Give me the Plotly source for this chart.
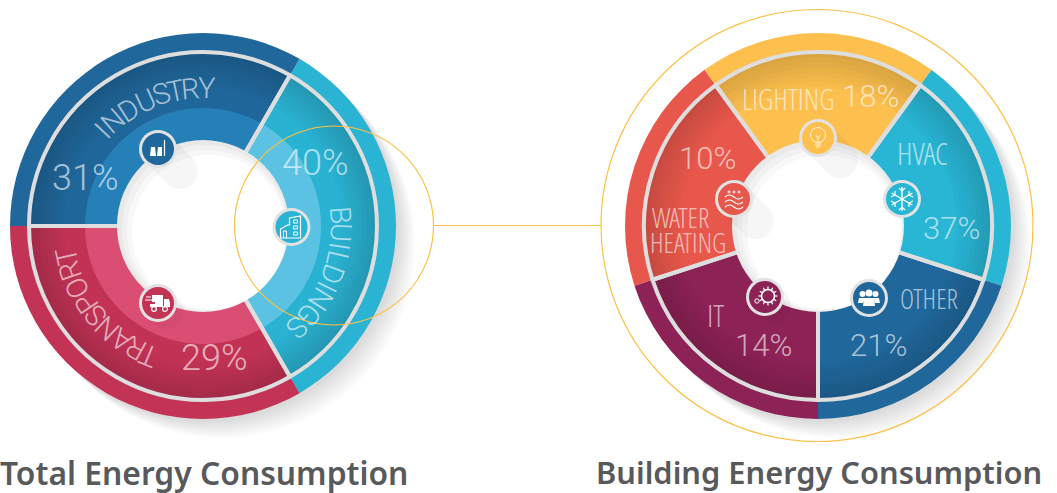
import re
import math
import plotly.graph_objects as go

W, H = 1057, 493

# ---- data ----
total_categories = ["Buildings", "Transport", "Industry"]
total_shares = [40, 29, 31]
total_slice_sizes = [120, 120, 120]
building_categories = ["HVAC", "Other", "IT", "Water heating", "Lighting"]
building_shares = [37, 21, 14, 10, 18]
building_slice_sizes = [72, 72, 72, 72, 72]
chart_titles = ["Total Energy Consumption", "Building Energy Consumption"]

total_base = ["#2bb3d3", "#c23356", "#20679b"]
total_light = ["#5bc2e3", "#db4e74", "#2680b8"]
building_base = ["#29b5d4", "#20679b", "#8d2256", "#e8574b", "#fdbf4d"]

SEP = "#dedede"
YEL = "#fbc047"
SEMI = "Roboto"
COND = "Open Sans Condensed Light, Roboto Condensed Light, Roboto"
TXT = "rgba(255,255,255,0.62)"

LC = (203, 226)
RC = (818, 226)


def fx(x):
    return x / W


def fy(y):
    return 1 - y / H


def darken(c, f):
    r, g, b = int(c[1:3], 16), int(c[3:5], 16), int(c[5:7], 16)
    return f"rgb({int(r*f)},{int(g*f)},{int(b*f)})"


fig = go.Figure()
shapes = []
ann = []


def pie(center, r, values, names, colors, rotation, line=None):
    cx, cy = center
    fig.add_trace(go.Pie(
        values=values, labels=names, sort=False, direction="clockwise",
        rotation=rotation, hole=0, textinfo="none", hoverinfo="skip",
        showlegend=False,
        domain=dict(x=[fx(cx - r), fx(cx + r)], y=[fy(cy + r), fy(cy - r)]),
        marker=dict(colors=colors, line=line or dict(width=0)),
    ))


def circle(cx, cy, r, fill=None, line=None, lw=0, opacity=1, layer="above"):
    shapes.append(dict(
        type="circle", xref="paper", yref="paper",
        x0=fx(cx - r), x1=fx(cx + r), y0=fy(cy + r), y1=fy(cy - r),
        fillcolor=fill or "rgba(0,0,0,0)",
        line=dict(color=line or "rgba(0,0,0,0)", width=lw),
        opacity=opacity, layer=layer,
    ))


def path(cx, cy, d, fill=None, line=None, lw=1.2, opacity=1):
    toks = re.findall(r"[A-Za-z]|-?\d+\.?\d*", d)
    out, isx = [], True
    for t in toks:
        if t.isalpha():
            out.append(t)
            isx = True
        else:
            v = float(t)
            out.append(f"{fx(cx + v):.5f}" if isx else f"{fy(cy + v):.5f}")
            isx = not isx
    shapes.append(dict(
        type="path", xref="paper", yref="paper", path=" ".join(out),
        fillcolor=fill or "rgba(0,0,0,0)",
        line=dict(color=line or "rgba(0,0,0,0)", width=lw if line else 0),
        opacity=opacity, layer="above",
    ))


def text(x, y, s, size, color=TXT, angle=0, font=SEMI, anchor="center", weight=300, box_h=None):
    f = dict(family=font, size=size, color=color, weight=weight)
    a = dict(
        x=fx(x), y=fy(y), xref="paper", yref="paper", text=s, showarrow=False,
        xanchor=anchor, yanchor="middle", textangle=angle, font=f,
        borderpad=0, borderwidth=0,
    )
    if box_h:
        a["height"] = box_h
    ann.append(a)


# approximate glyph advances of the label font, in em
ADV = dict(A=.58, B=.59, C=.57, D=.66, E=.50, G=.66, H=.67, I=.31, L=.48,
           N=.68, O=.70, P=.54, R=.56, S=.50, T=.50, U=.66, Y=.52)


def curved(word, center, r, theta_mid, size):
    cx, cy = center
    advs = [ADV[c] * size for c in word]
    pos = -sum(advs) / 2
    for c, a in zip(word, advs):
        th = theta_mid + math.degrees((pos + a / 2) / r)
        t = math.radians(th)
        ang = th % 360
        ang = ang if ang <= 180 else ang - 360
        text(cx + r * math.sin(t), cy - r * math.cos(t), c, size, angle=ang)
        pos += a


def drop_shadow(center, r):
    cx, cy = center
    for d in range(3, 20, 2):
        circle(cx + d, cy + d, r, fill="#000000", opacity=0.014, layer="below")


def center_disc(center):
    cx, cy = center
    circle(cx, cy, 86, fill="#e9e9e9")
    circle(cx + 2, cy + 2, 83, fill="#f1f1f1")
    circle(cx + 4, cy + 4, 80, fill="#f8f8f8")
    circle(cx + 6, cy + 6, 77, fill="#ffffff")


def long_shadow(cx, cy, length, rr=18):
    pts = []
    for i in range(0, 13):
        a = math.radians(-45 + i * 15)
        pts.append((length + rr * math.cos(a), length + rr * math.sin(a)))
    for i in range(0, 13):
        a = math.radians(135 + i * 15)
        pts.append((rr * math.cos(a), rr * math.sin(a)))
    d = "M " + " L ".join(f"{x:.2f} {y:.2f}" for x, y in pts) + " Z"
    path(cx, cy, d, fill="#000000", opacity=0.035)


def badge(cx, cy, color):
    circle(cx, cy, 19, fill="#e2e2e2")
    circle(cx, cy, 16, fill=color)


ICON = "#ffffff"


def icon_factory(cx, cy):
    path(cx, cy, "M -8 7 L -7 -2 L -3 -2 L -2 7 Z", fill=ICON)
    path(cx, cy, "M -1 7 L 0 -2 L 4 -2 L 4 7 Z", fill=ICON)
    path(cx, cy, "M 6.5 7 L 6.5 -9", line=ICON, lw=1.2)


def icon_building(cx, cy):
    path(cx, cy, "M -11 11 L -11 2 L -4 -2 L -2 -2 L -2 -9 L 9 -11 L 9 11 Z", line=ICON, lw=1.2)
    path(cx, cy, "M -8 11 L -8 4 L -5 4 L -5 11 M 2 -7 L 6 -7 L 6 -4 L 2 -4 Z M 2 -1 L 6 -1 L 6 2 L 2 2 Z M 2 5 L 6 5 L 6 8 L 2 8 Z",
         line=ICON, lw=1)


def icon_truck(cx, cy):
    path(cx, cy, "M -6 -8 L 5 -8 L 5 4 L -8 4 L -8 1 L -3 1 L -3 -1 L -6 -1 Z", fill=ICON)
    path(cx, cy, "M 6 -4 L 11 -4 L 12 0 L 12 4 L 6 4 Z", fill=ICON)
    path(cx, cy, "M -12 -6 L -7 -6 M -13 -3 L -6 -3", line=ICON, lw=1)
    circle(cx - 4, cy + 6, 2.4, fill=None, line=ICON, lw=1.2)
    circle(cx + 7, cy + 6, 2.4, fill=None, line=ICON, lw=1.2)


def icon_bulb(cx, cy):
    c = "#fff3d0"
    circle(cx, cy - 3, 7.5, line=c, lw=1)
    path(cx, cy, "M -3 5 L 3 5 M -3 7 L 3 7 M -2 9 L 2 9 M -2 -3 L 0 1 L 2 -3 M 0 1 L 0 4", line=c, lw=1)


def icon_snow(cx, cy):
    for dx, dy in [(0, 12), (10.4, 6), (10.4, -6)]:
        path(cx, cy, f"M {-dx} {-dy} L {dx} {dy}", line=ICON, lw=1.4)
    for sx, sy, ax, ay, bx, by in [
        (0, -8, -3, -11, 3, -11), (0, 8, -3, 11, 3, 11),
        (7, -4, 7, -8, 11, -2), (-7, 4, -7, 8, -11, 2),
        (7, 4, 11, 2, 7, 8), (-7, -4, -11, -2, -7, -8),
    ]:
        path(cx, cy, f"M {ax} {ay} L {sx} {sy} L {bx} {by}", line=ICON, lw=1.2)


def icon_waves(cx, cy):
    for y in (-2, 3, 8):
        path(cx, cy, f"M -9 {y} Q -4.5 {y-4} 0 {y} Q 4.5 {y+4} 9 {y}", line=ICON, lw=1.1)
    for x in (-5, 0, 5):
        path(cx, cy, f"M {x-1.5} -7 L {x+1.5} -7 M {x} -8.5 L {x} -5.5", line=ICON, lw=1)


def icon_gear(cx, cy):
    circle(cx + 3, cy - 1, 6.5, line=ICON, lw=1.6)
    for i in range(12):
        a = math.radians(i * 30)
        x0, y0 = 3 + 7 * math.cos(a), -1 + 7 * math.sin(a)
        x1, y1 = 3 + 9.5 * math.cos(a), -1 + 9.5 * math.sin(a)
        path(cx, cy, f"M {x0:.2f} {y0:.2f} L {x1:.2f} {y1:.2f}", line=ICON, lw=1.3)
    circle(cx - 8, cy + 4, 2.2, line=ICON, lw=1)


def icon_people(cx, cy):
    circle(cx - 6.5, cy - 4, 3, fill=ICON)
    circle(cx + 6.5, cy - 4, 3, fill=ICON)
    path(cx, cy, "M -11 5 L -10 0 L -4 0 L -6 5 Z M 11 5 L 10 0 L 4 0 L 6 5 Z", fill=ICON)
    circle(cx, cy - 5, 3.5, fill=ICON)
    path(cx, cy, "M -6 8 L -5 0 L 5 0 L 6 8 Z", fill=ICON)


# ---------- drop shadows ----------
drop_shadow(LC, 193)
drop_shadow(RC, 193)

# ---------- left chart ----------
pie(LC, 193, total_slice_sizes, total_categories, total_base, 30)
for i in range(8):
    r = 174 - i * 5
    f = 0.85 + i * 0.021
    pie(LC, r, total_slice_sizes, total_categories, [darken(c, f) for c in total_base], 30)
pie(LC, 118, total_slice_sizes, total_categories, total_light, 30)
pie(LC, 174, total_slice_sizes, total_categories, ["rgba(0,0,0,0)"] * 3, 30,
    line=dict(color=SEP, width=4))

# ---------- right chart ----------
pie(RC, 193, building_slice_sizes, building_categories, building_base, 36)
for i in range(8):
    r = 174 - i * 5
    f = 0.86 + i * 0.02
    pie(RC, r, building_slice_sizes, building_categories, [darken(c, f) for c in building_base], 36)
pie(RC, 174, building_slice_sizes, building_categories, ["rgba(0,0,0,0)"] * 5, 36,
    line=dict(color=SEP, width=4))

# ---------- centres, badges, icons ----------
center_disc(LC)
center_disc(RC)
long_shadow(158, 149, 22)
long_shadow(158, 303, 8)
long_shadow(818, 138, 22)
long_shadow(734, 199, 22)
long_shadow(765, 297, 8)

badge(158, 149, total_base[2]); icon_factory(158, 149)
badge(291.5, 227, total_base[0]); icon_building(291.5, 227)
badge(158, 303, total_base[1]); icon_truck(158, 303)
badge(818, 138, building_base[4]); icon_bulb(818, 138)
badge(902, 199, building_base[0]); icon_snow(902, 199)
badge(869, 298, building_base[1]); icon_people(869, 298)
badge(765, 297, building_base[2]); icon_gear(765, 297)
badge(734, 199, building_base[3]); icon_waves(734, 199)

# ---------- yellow callout ----------
circle(334, 225.5, 99.5, line=YEL, lw=1.2)
circle(817, 225.5, 216, line=YEL, lw=1.2)
path(0, 0, "M 433.5 225.5 L 601 225.5", line=YEL, lw=1)

# ---------- labels ----------
curved("INDUSTRY", LC, 138, -22, 29)
curved("BUILDINGS", LC, 138, 111, 29)
curved("TRANSPORT", LC, 140, 230, 29)
text(85, 178, f"{total_shares[2]}%", 36)
text(315, 163, f"{total_shares[0]}%", 36)
text(214, 358, f"{total_shares[1]}%", 36)

text(788, 98, "LIGHTING", 29, font=COND)
text(870, 96, f"{building_shares[4]}%", 31)
text(922, 153, "HVAC", 31, font=COND)
text(951, 228, f"{building_shares[0]}%", 31)
text(929, 298, "OTHER", 27, font=COND)
text(878, 345, f"{building_shares[1]}%", 31)
text(715, 315, "IT", 31, font=COND)
text(763, 345, f"{building_shares[2]}%", 31)
text(707, 158, f"{building_shares[3]}%", 31)
text(680, 217, "WATER", 27, font=COND, box_h=24)
text(688, 242, "HEATING", 27, font=COND, box_h=24)

text(0, 472, chart_titles[0], 31.8, color="#58595b", font="Noto Sans", anchor="left", weight=600)
text(596, 472, chart_titles[1], 30.8, color="#58595b", font="Noto Sans", anchor="left", weight=600)

fig.update_layout(
    width=W, height=H, margin=dict(l=0, r=0, t=0, b=0),
    paper_bgcolor="#ffffff", plot_bgcolor="#ffffff",
    shapes=shapes, annotations=ann, showlegend=False,
)
fig.write_html("out.html", config=dict(displayModeBar=False),
               post_script="document.body.style.margin='0';")
